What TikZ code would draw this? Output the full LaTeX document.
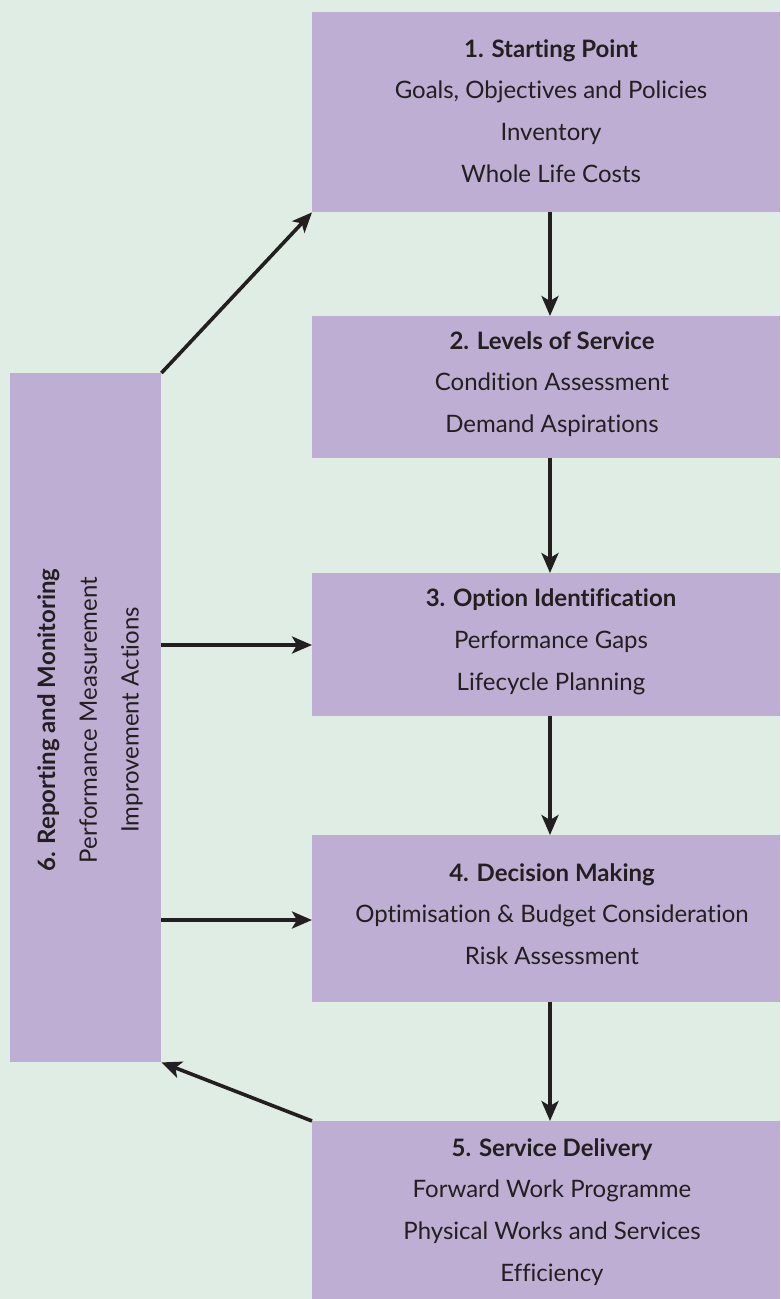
\documentclass[tikz,border=0pt]{standalone}
\usepackage{fontspec}
\setmainfont[Ligatures=NoCommon]{Lato}
\usetikzlibrary{arrows.meta}
\definecolor{bgc}{HTML}{E0EDE5}
\definecolor{boxc}{HTML}{BFAED4}
\definecolor{ink}{HTML}{231F20}
\begin{document}
\begin{tikzpicture}[x=1pt,y=-1pt,
  stagebox/.style={fill=boxc,draw=none,inner sep=0pt,anchor=north west},
  stagetext/.style={text=ink,align=center,font=\fontsize{24}{41.8}\selectfont,inner sep=0pt},
  flow/.style={draw=ink,line width=3.6pt,-{Stealth[length=20pt,width=17pt,inset=5pt]},shorten >=0pt}]
\fill[bgc] (0,0) rectangle (780,1299);
\useasboundingbox (0,0) rectangle (780,1299);
\node[stagebox,minimum width=468pt,minimum height=200pt] (b1) at (312,12) {};
\node[stagebox,minimum width=468pt,minimum height=142pt] (b2) at (312,316) {};
\node[stagebox,minimum width=468pt,minimum height=143pt] (b3) at (312,573) {};
\node[stagebox,minimum width=468pt,minimum height=167pt] (b4) at (312,835) {};
\node[stagebox,minimum width=468pt,minimum height=178pt] (b5) at (312,1121) {};
\node[stagebox,minimum width=151pt,minimum height=689pt] (b6) at (10,373) {};
\node[stagetext] (t1) at (551,111) {\textbf{1. Starting Point}\\Goals, Objectives and Policies\\Inventory\\Whole Life Costs};
\node[stagetext] (t2) at (552,384) {\textbf{2. Levels of Service}\\Condition Assessment\\Demand Aspirations};
\node[stagetext] (t3) at (551,642) {\textbf{3. Option Identification}\\Performance Gaps\\Lifecycle Planning};
\node[stagetext] (t4) at (552,914) {\textbf{4. Decision Making}\\Optimisation \& Budget Consideration\\Risk Assessment};
\node[stagetext] (t5) at (552,1212) {\textbf{5. Service Delivery}\\Forward Work Programme\\Physical Works and Services\\Efficiency};
\node[stagetext,rotate=90] (t6) at (90,720) {\textbf{6. Reporting and Monitoring}\\Performance Measurement\\Improvement Actions};
\draw[flow] (b1.south -| 550,0) -- (b2.north -| 550,0);
\draw[flow] (b2.south -| 550,0) -- (b3.north -| 550,0);
\draw[flow] (b3.south -| 550,0) -- (b4.north -| 550,0);
\draw[flow] (b4.south -| 550,0) -- (b5.north -| 550,0);
\draw[flow] (b6.north east) -- (b1.south west);
\draw[flow] (b6.east |- 0,645) -- (b3.west |- 0,645);
\draw[flow] (b6.east |- 0,920) -- (b4.west |- 0,920);
\draw[flow] (b5.north west) -- (b6.south east);
\end{tikzpicture}
\end{document}
